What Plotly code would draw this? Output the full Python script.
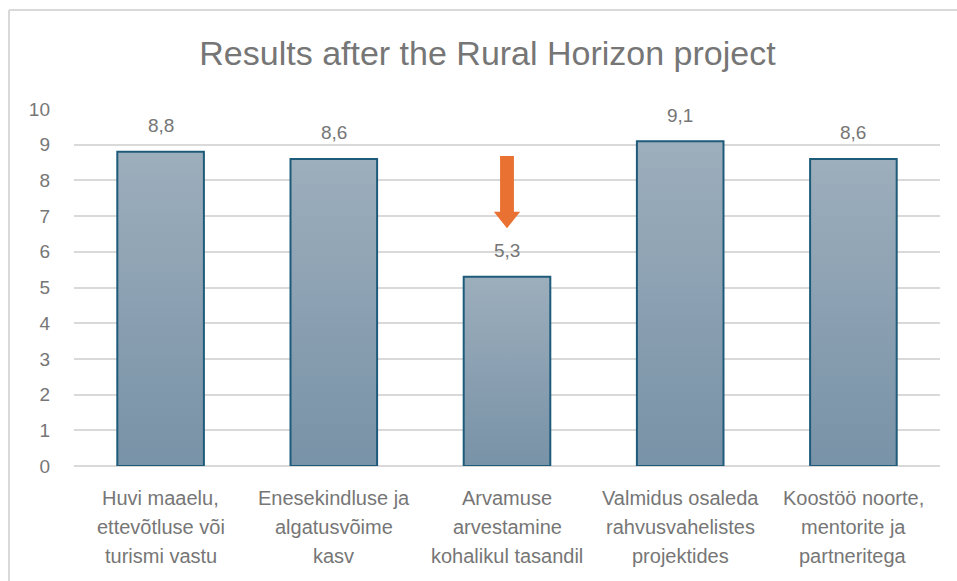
import plotly.graph_objects as go

categories = [
    "Huvi maaelu,<br>ettevõtluse või<br>turismi vastu",
    "Enesekindluse ja<br>algatusvõime<br>kasv",
    "Arvamuse<br>arvestamine<br>kohalikul tasandil",
    "Valmidus osaleda<br>rahvusvahelistes<br>projektides",
    "Koostöö noorte,<br>mentorite ja<br>partneritega",
]
values = [8.8, 8.6, 5.3, 9.1, 8.6]
y_ticks = [0, 1, 2, 3, 4, 5, 6, 7, 8, 9, 10]
title_text = "Results after the Rural Horizon project"

W, H = 957, 581
L, R, T, B = 74, 17, 109, 115
TEXT = "#767676"
FONT = "Liberation Sans, Arial, sans-serif"

fig = go.Figure()
half = 0.25
for i, v in enumerate(values):
    fig.add_trace(go.Scatter(
        x=[i - half, i + half, i + half, i - half, i - half],
        y=[0, 0, v, v, 0],
        mode="lines",
        fill="toself",
        fillgradient=dict(type="vertical",
                          colorscale=[[0, "#7892A7"], [1, "#9DAEBC"]],
                          start=0, stop=v),
        line=dict(color="#1E5B7A", width=2),
        hoverinfo="skip",
        showlegend=False,
    ))

annotations = []
# data labels
for i, v in enumerate(values):
    annotations.append(dict(
        x=i, y=v, xref="x", yref="y", text=f"{v:.1f}".replace(".", ","),
        showarrow=False, yanchor="middle", yshift=26,
        font=dict(family=FONT, size=19, color=TEXT)))
# category labels, one line at a time
for i, c in enumerate(categories):
    for k, line in enumerate(c.split("<br>")):
        annotations.append(dict(
            x=i, y=0, xref="x", yref="paper", text=line,
            showarrow=False, yanchor="middle", yshift=-32 - 29 * k,
            font=dict(family=FONT, size=20, color=TEXT)))

# orange down arrow above the third bar
ax = 2
arrow = (f"M {ax-0.04} 8.68 L {ax+0.04} 8.68 L {ax+0.04} 7.12 L {ax+0.076} 7.12 "
         f"L {ax} 6.66 L {ax-0.076} 7.12 L {ax-0.04} 7.12 Z")
shapes = [dict(type="path", path=arrow, xref="x", yref="y",
               fillcolor="#E97132", line=dict(width=0))]

pw = W - L - R
ph = H - T - B
px = lambda p: (p - L) / pw
py = lambda p: (H - B - p) / ph
shapes.append(dict(type="line", xref="paper", yref="paper",
                   x0=px(9), x1=px(9), y0=py(10), y1=py(H + 5),
                   line=dict(color="#D9D9D9", width=2), layer="below"))
shapes.append(dict(type="line", xref="paper", yref="paper",
                   x0=px(9), x1=px(W + 5), y0=py(10), y1=py(10),
                   line=dict(color="#D9D9D9", width=2), layer="below"))

fig.update_layout(
    width=W, height=H,
    margin=dict(l=L, r=R, t=T, b=B),
    paper_bgcolor="white", plot_bgcolor="white",
    title=dict(text=title_text, x=px(487.5), xref="paper", xanchor="center",
               y=1 - 53 / H, yref="container", yanchor="middle",
               font=dict(family=FONT, size=34, color=TEXT)),
    shapes=shapes,
    annotations=annotations,
    xaxis=dict(range=[-0.5, len(values) - 0.5],
               tickvals=list(range(len(values))),
               ticktext=[""] * len(values),
               showgrid=False, zeroline=False, showline=False, ticks="",
               fixedrange=True),
    yaxis=dict(range=[0, 10], tickvals=y_ticks,
               tickfont=dict(family=FONT, size=19, color=TEXT),
               showgrid=True, gridcolor="#D9D9D9", gridwidth=2,
               zeroline=True, zerolinecolor="#D9D9D9", zerolinewidth=2,
               showline=False, ticks="", ticklabelstandoff=23,
               fixedrange=True),
    showlegend=False,
)

fig.write_html("out.html",
               config={"displayModeBar": False, "staticPlot": True},
               post_script="document.body.style.margin='0';document.body.style.overflow='hidden';")
